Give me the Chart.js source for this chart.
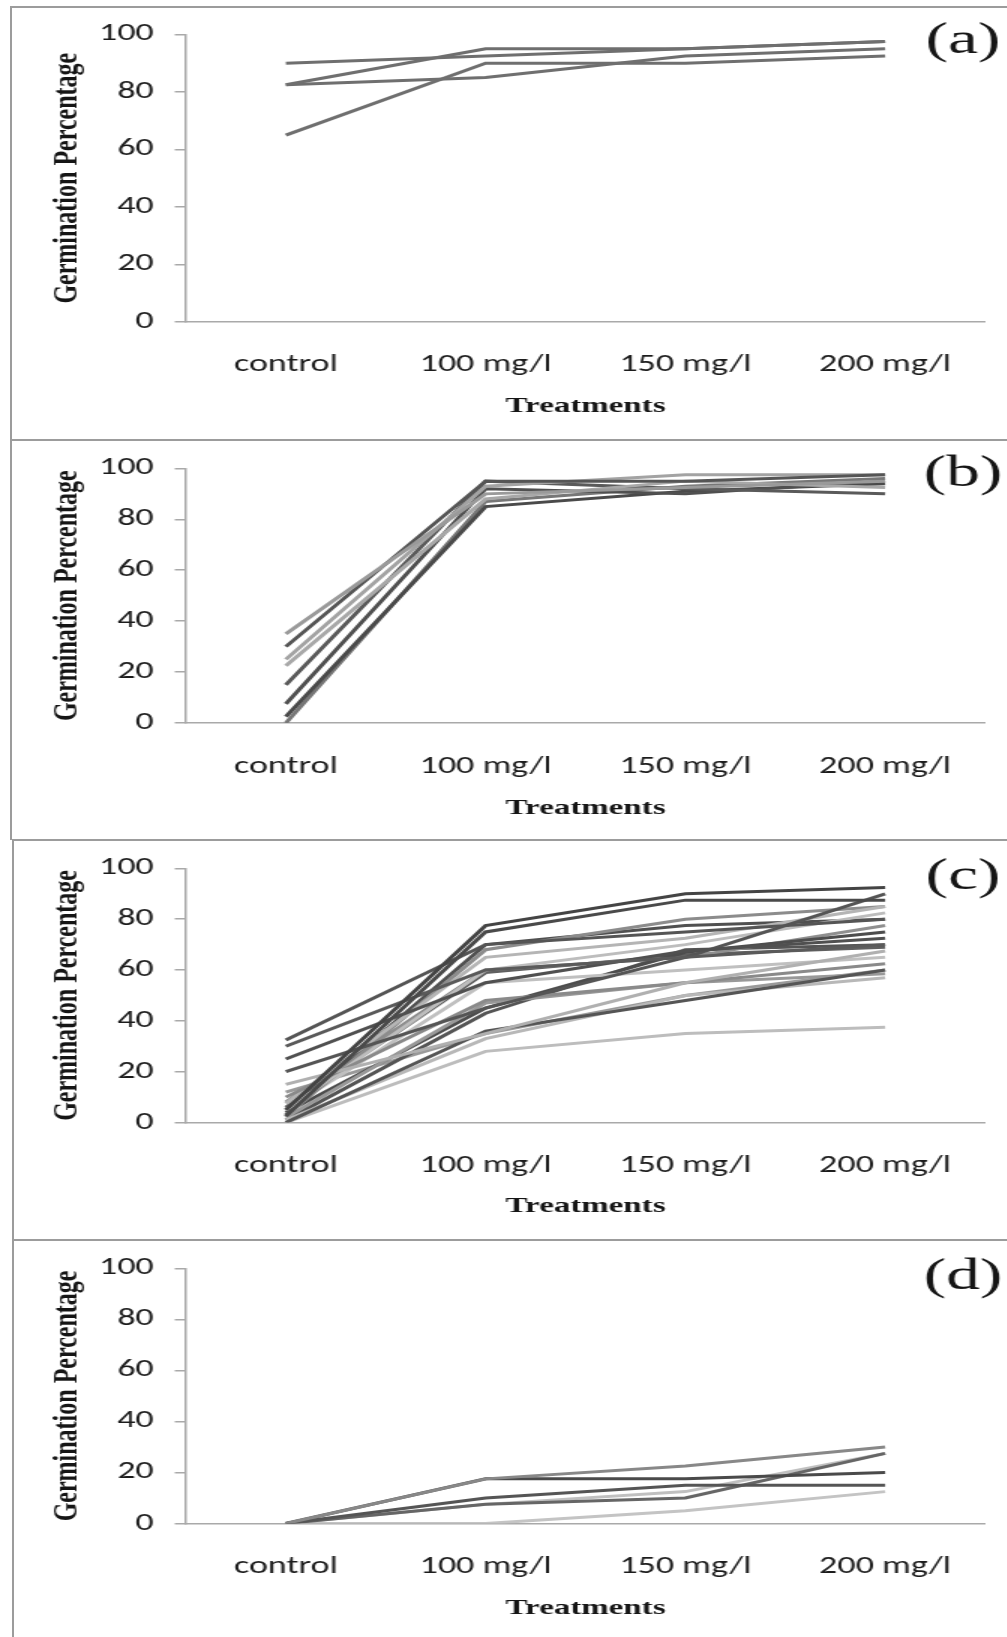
<!DOCTYPE html>
<html>
<head>
<meta charset="utf-8">
<title>Germination Percentage by treatment</title>
<script src="https://cdn.jsdelivr.net/npm/chart.js@4.4.1/dist/chart.umd.min.js"></script>
<style>
  html, body { margin: 0; padding: 0; background: #fff; }
  body { width: 1007px; height: 1637px; position: relative; overflow: hidden; }
  .box { position: absolute; width: 1010px; border-top: 2px solid #9c9c9c; border-left: 2px solid #9c9c9c; box-sizing: border-box; }
  canvas { position: absolute; left: 0; transform-origin: 0 0; }
</style>
</head>
<body>
<div class="box" style="left:10px;top:6px;height:434px"></div>
<div class="box" style="left:10px;top:439px;height:401px"></div>
<div class="box" style="left:12px;top:839px;height:401px"></div>
<div class="box" style="left:12px;top:1239px;height:420px"></div>
<canvas id="chartA"></canvas>
<canvas id="chartB"></canvas>
<canvas id="chartC"></canvas>
<canvas id="chartD"></canvas>
<script>
const treatments = ['control', '100 mg/l', '150 mg/l', '200 mg/l'];
const yTicks = [0, 20, 40, 60, 80, 100];

// (a)
const seriesA = [
    [90, 92.5, 95, 97.5],
    [82.5, 95, 95, 97.5],
    [82.5, 85, 92.5, 95],
    [65, 90, 90, 92.5]
];
const shadesA = ['#6f6f6f', '#6f6f6f', '#6f6f6f', '#6f6f6f'];

// (b)
const seriesB = [
    [35, 90, 92.5, 95],
    [30, 95, 95, 97.5],
    [25, 93, 97.5, 97.5],
    [22.5, 88, 95, 92.5],
    [15, 95, 92, 90],
    [7.5, 92, 90, 95],
    [2.5, 85, 91, 94],
    [0, 87, 93, 96]
];
const shadesB = ['#9a9a9a', '#555555', '#a3a3a3', '#a8a8a8', '#5a5a5a', '#505050', '#4a4a4a', '#777777'];

// (c)
const seriesC = [
    [5, 77.5, 90, 92.5],
    [2.5, 75, 87.5, 87.5],
    [32.5, 70, 75, 80],
    [30, 60, 65, 70],
    [25, 55, 67.5, 72.5],
    [20, 45, 65, 90],
    [15, 35, 55, 67.5],
    [10, 48, 55, 62.5],
    [7.5, 65, 72.5, 85],
    [5, 60, 70, 82.5],
    [2.5, 68, 80, 85],
    [0, 36, 48, 60],
    [1, 33, 50, 57],
    [0, 28, 35, 37.5],
    [5, 55, 60, 65],
    [3, 70, 77.5, 80],
    [2, 47, 55, 58.5],
    [4, 45, 67, 75],
    [8, 60, 65, 77.5],
    [1, 43, 68, 70],
    [6, 59, 66, 69],
    [12, 35, 50, 60]
];
const shadesC = ['#444444', '#4a4a4a', '#555555', '#5a5a5a', '#505050', '#555555', '#b0b0b0',
    '#8a8a8a', '#b5b5b5', '#bdbdbd', '#8c8c8c', '#555555', '#b8b8b8', '#bdbdbd', '#c0c0c0',
    '#505050', '#999999', '#4d4d4d', '#8f8f8f', '#555555', '#606060', '#9a9a9a'];

// (d)
const seriesD = [
    [0, 17.5, 22.5, 30],
    [0, 17.5, 17.5, 20],
    [0, 10, 15, 15],
    [0, 7.5, 10, 27.5],
    [0, 7.5, 12.5, 27.5],
    [0, 0, 5, 12.5]
];
const shadesD = ['#888888', '#4a4a4a', '#555555', '#666666', '#c0c0c0', '#c4c4c4'];

const STRETCH = 1.5;       // the figure is widened horizontally
const PAGE_W = 1007;
const AXIS_LEFT = 186;     // page px
const AXIS_RIGHT = 985;
const TICK_FONT = { family: 'Carlito, Lato, "Open Sans", sans-serif', size: 24 };
const TITLE_X_FONT = { family: '"Liberation Serif", "Times New Roman", serif', size: 22, weight: 'bold' };
const TITLE_Y_FONT = { family: '"Liberation Serif", "Times New Roman", serif', size: 24, weight: 'bold' };

const panelTag = {
    id: 'panelTag',
    afterDraw(chart, args, opts) {
        const ctx = chart.ctx;
        ctx.save();
        ctx.font = '45px "Liberation Serif", "Times New Roman", serif';
        ctx.fillStyle = '#151515';
        ctx.textAlign = 'center';
        ctx.textBaseline = 'middle';
        ctx.fillText(opts.text, opts.x, opts.y);
        ctx.restore();
    }
};

function drawPanel(id, layout, series, shades, tag) {
    const canvas = document.getElementById(id);
    const w = Math.round(PAGE_W / STRETCH);
    canvas.width = w;
    canvas.height = layout.height;
    canvas.style.width = w + 'px';
    canvas.style.height = layout.height + 'px';
    canvas.style.top = layout.top + 'px';
    canvas.style.transform = 'scaleX(' + STRETCH + ')';

    const bottom = layout.top + layout.height;
    const tickLH = TICK_FONT.size * 1.2;
    const titleLH = TITLE_X_FONT.size * 1.2;

    new Chart(canvas, {
        type: 'line',
        data: {
            labels: treatments,
            datasets: series.map((vals, i) => ({
                data: vals,
                borderColor: shades[i],
                borderWidth: 3,
                pointRadius: 0,
                tension: 0,
                fill: false
            }))
        },
        options: {
            responsive: false,
            animation: false,
            events: [],
            layout: {
                padding: {
                    top: layout.yTop - layout.top,
                    left: 0,
                    right: w - AXIS_RIGHT / STRETCH,
                    bottom: 0
                }
            },
            plugins: {
                legend: { display: false },
                tooltip: { enabled: false },
                panelTag: { text: tag, x: 963 / STRETCH, y: layout.tagY - layout.top }
            },
            scales: {
                x: {
                    offset: true,
                    grid: { display: false, drawTicks: false },
                    border: { display: true, color: '#a9a9a9', width: 1.5 },
                    ticks: { color: '#1c1c1c', font: TICK_FONT, padding: layout.labelY - layout.yZero - tickLH / 2, maxRotation: 0 },
                    title: {
                        display: true, text: 'Treatments', color: '#151515', font: TITLE_X_FONT,
                        padding: { top: 0, bottom: bottom - layout.titleY - titleLH / 2 }
                    },
                    afterFit: s => { s.height = bottom - layout.yZero; }
                },
                y: {
                    min: 0,
                    max: 100,
                    afterBuildTicks: s => { s.ticks = yTicks.map(v => ({ value: v })); },
                    grid: { display: true, drawOnChartArea: false, drawTicks: true, tickLength: 7.5, color: '#a9a9a9', lineWidth: 1.5 },
                    border: { display: true, color: '#a9a9a9', width: 1.5 },
                    ticks: { color: '#1c1c1c', font: TICK_FONT, padding: 14 },
                    title: {
                        display: true, text: 'Germination Percentage', color: '#151515', font: TITLE_Y_FONT,
                        padding: { top: 30, bottom: 0 }
                    },
                    afterFit: s => { s.width = AXIS_LEFT / STRETCH; }
                }
            }
        },
        plugins: [panelTag]
    });
}

drawPanel('chartA', { top: 6, height: 434, yTop: 30.5, yZero: 322, labelY: 365, titleY: 406, tagY: 41 }, seriesA, shadesA, '(a)');
drawPanel('chartB', { top: 440, height: 399, yTop: 461.7, yZero: 723, labelY: 767, titleY: 808, tagY: 474 }, seriesB, shadesB, '(b)');
drawPanel('chartC', { top: 840, height: 399, yTop: 862.5, yZero: 1122.5, labelY: 1166, titleY: 1206, tagY: 877 }, seriesC, shadesC, '(c)');
drawPanel('chartD', { top: 1240, height: 397, yTop: 1262.5, yZero: 1523.5, labelY: 1567, titleY: 1608, tagY: 1277 }, seriesD, shadesD, '(d)');
</script>
</body>
</html>
